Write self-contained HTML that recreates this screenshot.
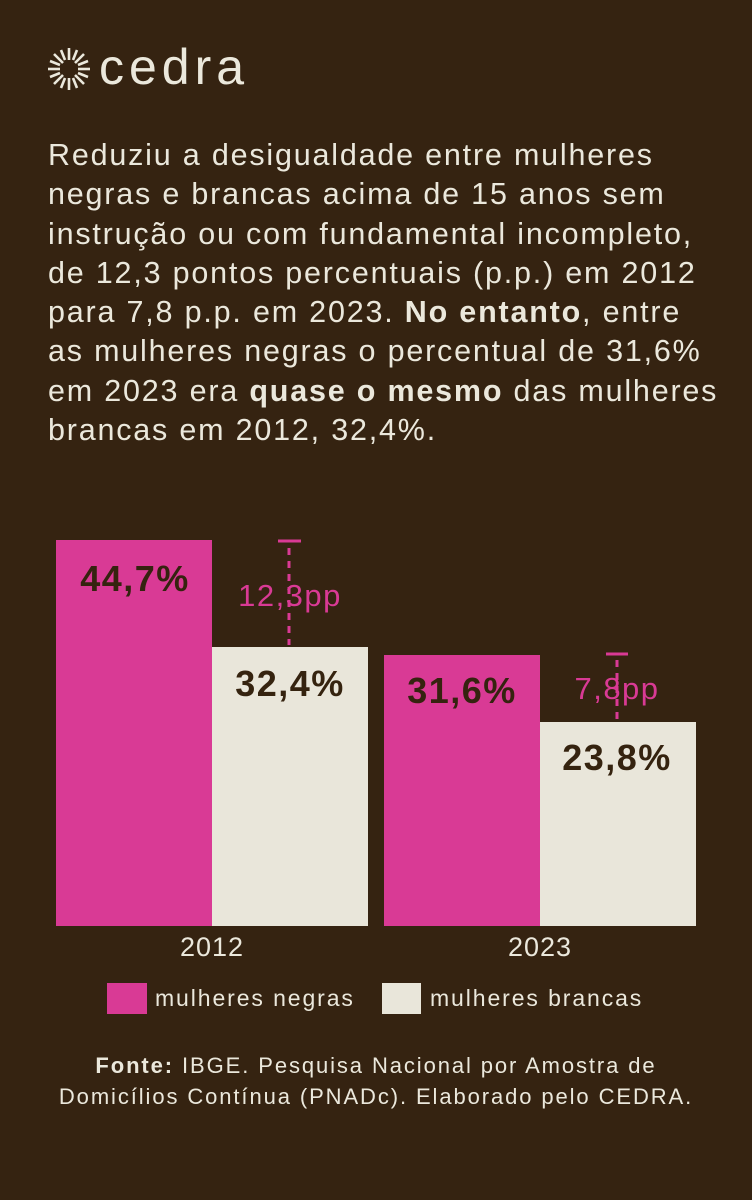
<!DOCTYPE html>
<html><head><meta charset="utf-8"><style>
body{margin:0;width:752px;height:1200px;background:#352311;position:relative;overflow:hidden;font-family:"Liberation Sans",sans-serif;color:#ebe8dc}
.a{position:absolute}
.t{left:48px;top:136px;font-size:30.5px;line-height:39.3px;width:720px;letter-spacing:1.8px;white-space:nowrap}
.bar{position:absolute}
.p{background:#d93a95}.c{background:#e9e6da}
.v{position:absolute;font-weight:bold;font-size:36px;letter-spacing:1.5px;color:#35230f;transform:translateX(-50%);white-space:nowrap}
.pp{position:absolute;font-size:31px;letter-spacing:1.5px;color:#d93a95;transform:translateX(-50%)}
.y{position:absolute;font-size:27px;letter-spacing:1px;transform:translateX(-50%)}
.lg{position:absolute;font-size:23px;letter-spacing:1.9px}
</style></head><body>
<svg class="a" style="left:46px;top:46px" width="46" height="46" viewBox="-23 -23 46 46">
<g stroke="#ebe8dc" stroke-width="2.6" stroke-linecap="butt">
<line x1="0" y1="-9" x2="0" y2="-21"/><line x1="0" y1="9" x2="0" y2="21"/><line x1="-9" y1="0" x2="-21" y2="0"/><line x1="9" y1="0" x2="21" y2="0"/>
<line x1="6" y1="-6" x2="15" y2="-15"/><line x1="-6" y1="-6" x2="-15" y2="-15"/><line x1="6" y1="6" x2="15" y2="15"/><line x1="-6" y1="6" x2="-15" y2="15"/>
<line x1="4" y1="-9" x2="8" y2="-19"/><line x1="-4" y1="-9" x2="-8" y2="-19"/><line x1="4" y1="9" x2="8" y2="19"/><line x1="-4" y1="9" x2="-8" y2="19"/>
<line x1="9" y1="-4" x2="19" y2="-8"/><line x1="-9" y1="-4" x2="-19" y2="-8"/><line x1="9" y1="4" x2="19" y2="8"/><line x1="-9" y1="4" x2="-19" y2="8"/>
</g></svg>
<div class="a" style="left:99px;top:38px;font-size:50px;letter-spacing:5px">cedra</div>
<div class="a t">Reduziu a desigualdade entre mulheres<br>negras e brancas acima de 15 anos sem<br>instrução ou com fundamental incompleto,<br>de 12,3 pontos percentuais (p.p.) em 2012<br>para 7,8 p.p. em 2023. <b>No entanto</b>, entre<br>as mulheres negras o percentual de 31,6%<br>em 2023 era <b>quase o mesmo</b> das mulheres<br>brancas em 2012, 32,4%.</div>
<div class="bar p" style="left:56px;top:540px;width:156px;height:386px"></div>
<div class="bar c" style="left:212px;top:647px;width:156px;height:279px"></div>
<div class="bar p" style="left:384px;top:655px;width:156px;height:271px"></div>
<div class="bar c" style="left:540px;top:722px;width:156px;height:204px"></div>
<svg class="a" style="left:0;top:0" width="752" height="1200">
<g stroke="#d93a95" stroke-width="3"><line x1="278" y1="541" x2="301" y2="541"/><line x1="606" y1="654" x2="628" y2="654"/></g>
<g stroke="#d93a95" stroke-width="3" stroke-dasharray="7,6"><line x1="289" y1="548" x2="289" y2="645"/><line x1="617" y1="660" x2="617" y2="720"/></g>
</svg>
<div class="v" style="left:135px;top:558px">44,7%</div>
<div class="pp" style="left:290px;top:578px">12,3pp</div>
<div class="v" style="left:290px;top:663px">32,4%</div>
<div class="v" style="left:462px;top:670px">31,6%</div>
<div class="pp" style="left:617px;top:671px">7,8pp</div>
<div class="v" style="left:617px;top:737px">23,8%</div>
<div class="y" style="left:212px;top:932px">2012</div>
<div class="y" style="left:540px;top:932px">2023</div>
<div class="a p" style="left:107px;top:983px;width:40px;height:31px"></div>
<div class="lg" style="left:155px;top:985px">mulheres negras</div>
<div class="a c" style="left:382px;top:983px;width:39px;height:31px"></div>
<div class="lg" style="left:430px;top:985px">mulheres brancas</div>
<div class="a" style="left:0;width:752px;top:1050px;text-align:center;font-size:22px;letter-spacing:1.9px;line-height:31px;white-space:nowrap"><b>Fonte:</b> IBGE. Pesquisa Nacional por Amostra de<br>Domicílios Contínua (PNADc). Elaborado pelo CEDRA.</div>
</body></html>
